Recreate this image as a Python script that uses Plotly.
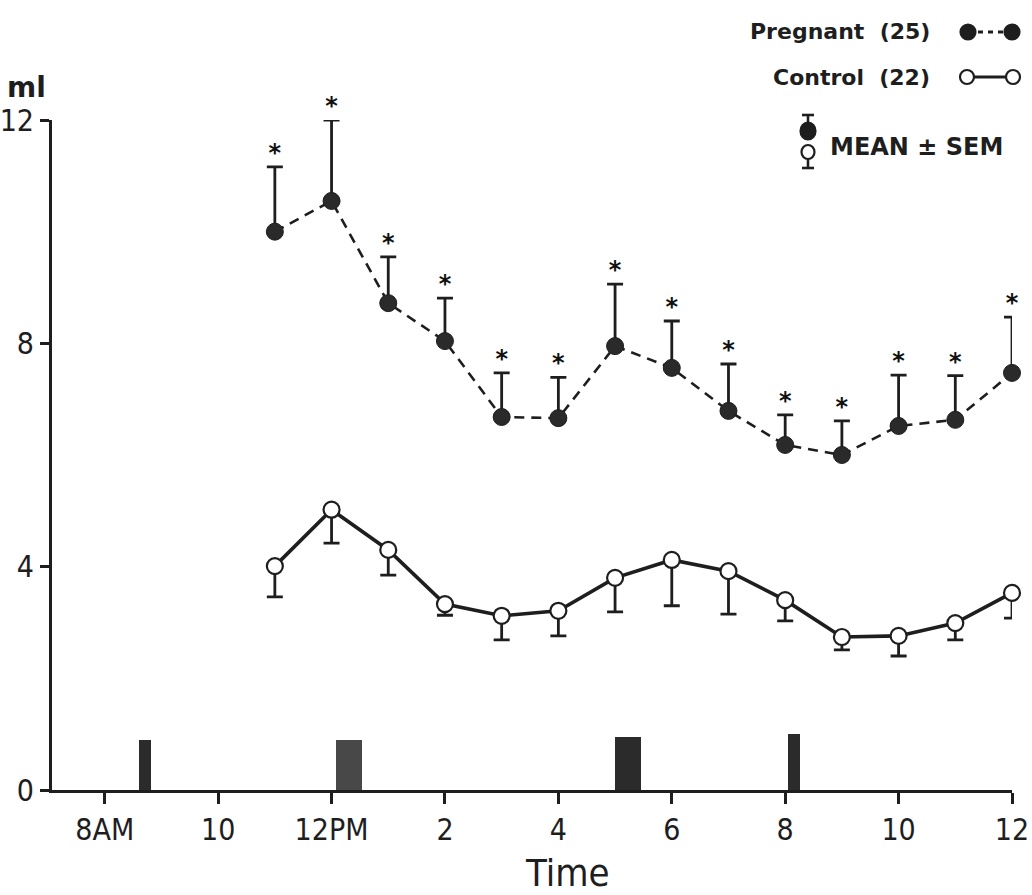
import plotly.graph_objects as go

# Hourly sampling times (24-h clock, 24 = midnight)
hours = [11, 12, 13, 14, 15, 16, 17, 18, 19, 20, 21, 22, 23, 24]

# Pregnant group (n=25): mean volume and SEM, ml
preg_mean = [10.0, 10.55, 8.72, 8.04, 6.68, 6.66, 7.95, 7.56, 6.79, 6.18, 6.0, 6.52, 6.63, 7.47]
preg_sem = [1.16, 1.45, 0.83, 0.77, 0.79, 0.73, 1.11, 0.84, 0.84, 0.54, 0.61, 0.91, 0.79, 1.0]

# Control group (n=22): mean volume and SEM, ml
ctrl_mean = [4.01, 5.02, 4.30, 3.33, 3.12, 3.21, 3.80, 4.12, 3.92, 3.40, 2.74, 2.76, 2.99, 3.53]
ctrl_sem = [0.55, 0.60, 0.45, 0.20, 0.43, 0.45, 0.61, 0.82, 0.77, 0.37, 0.23, 0.36, 0.30, 0.45]

# Event markers along the time axis
event_time = [8.71, 12.31, 17.23, 20.16]
event_height = [0.9, 0.9, 0.95, 1.0]
event_width = [0.22, 0.45, 0.45, 0.22]
event_color = ["#2b2b2b", "#484848", "#2b2b2b", "#2b2b2b"]

tick_vals = [8, 10, 12, 14, 16, 18, 20, 22, 24]
tick_text = ["8AM", "10", "12PM", "2", "4", "6", "8", "10", "12"]
y_ticks = [0, 4, 8, 12]

INK = "#1e1e1e"
TICK_FONT = "Liberation Sans Narrow, Arial Narrow, DejaVu Sans Condensed, sans-serif"
TEXT_FONT = "DejaVu Sans, Lato, sans-serif"

fig = go.Figure()

fig.add_trace(go.Bar(
    x=event_time, y=event_height, width=event_width,
    marker=dict(color=event_color, line=dict(width=0)),
    showlegend=False, hoverinfo="skip",
))

fig.add_trace(go.Scatter(
    x=hours, y=ctrl_mean, mode="lines+markers",
    line=dict(color=INK, width=3.6),
    marker=dict(symbol="circle", size=16, color="white", line=dict(color=INK, width=2.2)),
    error_y=dict(type="data", symmetric=False, array=[0] * len(ctrl_sem), arrayminus=ctrl_sem,
                 color=INK, thickness=2.8, width=8),
    cliponaxis=False, showlegend=False,
))

fig.add_trace(go.Scatter(
    x=hours, y=preg_mean, mode="lines+markers",
    line=dict(color=INK, width=2.6, dash="10px,7px"),
    marker=dict(symbol="circle", size=17, color="#2a2a2a", line=dict(color=INK, width=1)),
    error_y=dict(type="data", symmetric=False, array=preg_sem, arrayminus=[0] * len(preg_sem),
                 color=INK, thickness=2.8, width=8),
    cliponaxis=False, showlegend=False,
))

# Significance asterisks over each pregnant-group error bar
fig.add_trace(go.Scatter(
    x=hours, y=[m + s for m, s in zip(preg_mean, preg_sem)], mode="text",
    text=["<b>*</b>"] * len(hours), textposition="top center",
    textfont=dict(family="DejaVu Sans, sans-serif", size=24, color="#111111"),
    cliponaxis=False, showlegend=False, hoverinfo="skip",
))

fig.update_layout(
    width=1032, height=895,
    margin=dict(l=52, r=20, t=120, b=105, autoexpand=False),
    paper_bgcolor="white", plot_bgcolor="white",
    bargap=0,
    xaxis=dict(
        range=[7.07, 24.0], tickmode="array", tickvals=tick_vals, ticktext=tick_text,
        ticks="outside", ticklen=11, tickwidth=2.5, tickcolor=INK, automargin=False,
        showline=True, linecolor=INK, linewidth=3, showgrid=False, zeroline=False,
        tickfont=dict(family=TICK_FONT, size=30, color=INK),
    ),
    yaxis=dict(
        range=[0, 12], tickmode="array", tickvals=y_ticks,
        ticks="outside", ticklen=9, tickwidth=2.5, tickcolor=INK, automargin=False,
        showline=True, linecolor=INK, linewidth=3, showgrid=False, zeroline=False,
        tickfont=dict(family=TICK_FONT, size=30, color=INK),
    ),
    font=dict(family=TEXT_FONT, color=INK),
)


def px(xp):
    return (xp - 52) / 960


def py(yp):
    return (790 - yp) / 670


# Axis titles
fig.add_annotation(xref="paper", yref="paper", x=px(26), y=py(88),
                   text="<b>ml</b>", showarrow=False, xanchor="center", yanchor="middle",
                   font=dict(family=TEXT_FONT, size=28, color=INK))
fig.add_annotation(xref="paper", yref="paper", x=px(567), y=py(873),
                   text="Time", showarrow=False, xanchor="center", yanchor="middle",
                   font=dict(family=TICK_FONT, size=38, color=INK))

# Key, upper right
fig.add_annotation(xref="paper", yref="paper", x=px(932), y=py(32), text="<b>Pregnant  (25)</b>",
                   showarrow=False, xanchor="right", yanchor="middle",
                   font=dict(family=TEXT_FONT, size=22, color=INK))
fig.add_annotation(xref="paper", yref="paper", x=px(932), y=py(78), text="<b>Control  (22)</b>",
                   showarrow=False, xanchor="right", yanchor="middle",
                   font=dict(family=TEXT_FONT, size=22, color=INK))
fig.add_annotation(xref="paper", yref="paper", x=px(828), y=py(147), text="<b>MEAN ± SEM</b>",
                   showarrow=False, xanchor="left", yanchor="middle",
                   font=dict(family=TEXT_FONT, size=24, color=INK))


def dot(xc, yc, filled, w=15, h=15):
    fig.add_shape(type="circle", xref="paper", yref="paper", xsizemode="pixel", ysizemode="pixel",
                  xanchor=px(xc), yanchor=py(yc), x0=-w / 2, x1=w / 2, y0=-h / 2, y1=h / 2,
                  fillcolor=INK if filled else "white", line=dict(color=INK, width=2.2), layer="above")


def seg(x0, y0, x1, y1, dash="solid", width=2.6):
    fig.add_shape(type="line", xref="paper", yref="paper", x0=px(x0), y0=py(y0), x1=px(x1), y1=py(y1),
                  line=dict(color=INK, width=width, dash=dash), layer="above")


seg(968, 32, 1012, 32, dash="5px,5px", width=3)
dot(968, 32, True)
dot(1012, 32, True)
seg(967, 77, 1013, 77, width=3)
dot(967, 77, False, 14, 14)
dot(1013, 77, False, 14, 14)

# Mean ± SEM glyph
seg(808, 115, 808, 130)
seg(802, 115, 814, 115)
seg(808, 152, 808, 168)
seg(802, 168, 814, 168)
dot(808, 131, True, 15, 17)
dot(808, 152, False, 13, 14)

fig.write_html("out.html")
